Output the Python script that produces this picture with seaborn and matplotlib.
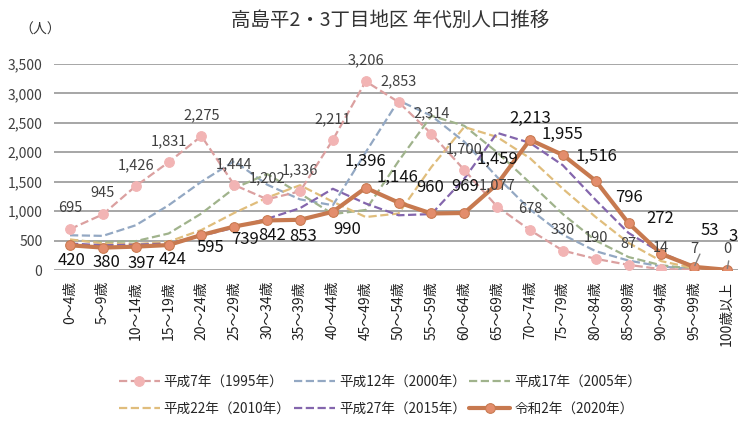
import pandas as pd
import seaborn as sns
import matplotlib.pyplot as plt

# 年代区分
age_groups = ["0～4歳", "5～9歳", "10～14歳", "15～19歳", "20～24歳", "25～29歳",
              "30～34歳", "35～39歳", "40～44歳", "45～49歳", "50～54歳", "55～59歳",
              "60～64歳", "65～69歳", "70～74歳", "75～79歳", "80～84歳", "85～89歳",
              "90～94歳", "95～99歳", "100歳以上"]

# 各年の人口（1995・2020はラベル値、それ以外は図から読み取り）
pop_1995 = [695, 945, 1426, 1831, 2275, 1444, 1202, 1336, 2211, 3206, 2853,
            2314, 1700, 1077, 678, 330, 190, 87, 14, 7, 0]
pop_2000 = [590, 580, 760, 1100, 1500, 1850, 1450, 1200, 1100, 2000, 2880,
            2620, 2180, 1580, 1030, 600, 320, 160, 60, 15, 2]
pop_2005 = [510, 470, 490, 620, 960, 1390, 1630, 1300, 950, 1020, 1850,
            2620, 2450, 2000, 1480, 950, 500, 220, 80, 20, 2]
pop_2010 = [520, 450, 440, 480, 680, 970, 1230, 1440, 1160, 900, 960,
            1750, 2430, 2260, 1900, 1380, 900, 460, 150, 30, 3]
pop_2015 = [450, 420, 430, 450, 580, 720, 870, 1050, 1380, 1130, 930,
            950, 1550, 2330, 2160, 1780, 1190, 630, 290, 60, 4]
pop_2020 = [420, 380, 397, 424, 595, 739, 842, 853, 990, 1396, 1146,
            960, 969, 1459, 2213, 1955, 1516, 796, 272, 53, 3]

series_names = ["平成7年（1995年）", "平成12年（2000年）", "平成17年（2005年）",
                "平成22年（2010年）", "平成27年（2015年）", "令和2年（2020年）"]

rows = []
for name, vals in zip(series_names, [pop_1995, pop_2000, pop_2005, pop_2010, pop_2015, pop_2020]):
    for i, v in enumerate(vals):
        rows.append({"series": name, "age": age_groups[i], "pos": i, "pop": v})
df = pd.DataFrame(rows)

sns.set_style("white")
plt.rcParams['font.family'] = ['Noto Sans CJK JP', 'DejaVu Sans']

fig = plt.figure(figsize=(7.38, 4.22), dpi=100)
ax = fig.add_axes([53.6 / 738, 1 - 270 / 422, (743.5 - 53.6) / 738, (270 - 64) / 422])

styles = {
    "平成7年（1995年）": dict(color="#dba0a0", ls="--", lw=1.6, marker="o", ms=7, mfc="#f2b4b4", mec="#f2b4b4"),
    "平成12年（2000年）": dict(color="#93a8c3", ls="--", lw=1.6),
    "平成17年（2005年）": dict(color="#a0b38c", ls="--", lw=1.6),
    "平成22年（2010年）": dict(color="#e0bd7c", ls="--", lw=1.6),
    "平成27年（2015年）": dict(color="#8466ad", ls="--", lw=1.6),
    "令和2年（2020年）": dict(color="#c7794f", ls="-", lw=3, marker="o", ms=7, mfc="#e38d6c", mec="#c7794f"),
}
draw_order = series_names[1:5] + [series_names[0], series_names[5]]
for name in draw_order:
    st = styles[name]
    sub = df[df["series"] == name]
    sns.lineplot(data=sub, x="pos", y="pop", ax=ax, label=name, color=st["color"],
                 linestyle=st["ls"], linewidth=st["lw"], marker=st.get("marker"),
                 markersize=st.get("ms", 0), markerfacecolor=st.get("mfc"),
                 markeredgecolor=st.get("mec"), dashes=False if st["ls"] == "-" else (3, 2))

# 1995年のラベル
for i, v in enumerate(pop_1995):
    ax.annotate(f"{v:,}", (i, v), xytext=(0, 21), textcoords="offset pixels",
                ha="center", va="center", fontsize=10.5, color="#404040", annotation_clip=False)

# 2020年のラベル
off_2020 = [(2, -15), (4, -15), (6, -17), (4, -14), (9, -13), (11, -13), (5, -15), (3, -17),
            (14, -18), (0, 26), (-1, 25), (-1, 26), (1, 26), (0, 25), (0, 21), (0, 20),
            (1, 24), (0, 26), (-1, 35), (16, 36), (6, 33)]
for i, v in enumerate(pop_2020):
    dx, dy = off_2020[i]
    if i >= 19:
        ax.annotate(f"{v:,}", (i, v), xytext=(dx, dy), textcoords="offset pixels",
                    ha="center", va="center", fontsize=12, color="#111111",
                    annotation_clip=False,
                    arrowprops=dict(arrowstyle="-", color="#7f7f7f", lw=1, shrinkA=9, shrinkB=1))
    else:
        ax.annotate(f"{v:,}", (i, v), xytext=(dx, dy), textcoords="offset pixels",
                    ha="center", va="center", fontsize=12, color="#111111", annotation_clip=False)

ax.set_xlim(-0.5, 20.5)
ax.set_ylim(0, 3500)
ax.set_yticks(range(0, 3501, 500))
ax.set_yticklabels([f"{t:,}" for t in range(0, 3501, 500)], fontsize=10, color="#404040")
ax.set_xticks(range(len(age_groups)))
ax.set_xticklabels(age_groups, rotation=90, fontsize=10, color="#202020")
ax.tick_params(axis="x", pad=8, length=0)
ax.tick_params(axis="y", pad=8, length=0)
ax.set_xlabel("")
ax.set_ylabel("")
ax.grid(axis="y", color="#a6a6a6", lw=1.4)
ax.set_axisbelow(True)
for s in ax.spines.values():
    s.set_visible(False)
ax.get_legend().remove()

# 凡例は行方向に並べる
handles, labels = ax.get_legend_handles_labels()
by_name = dict(zip(labels, handles))
leg_order = [series_names[k] for k in [0, 3, 1, 4, 2, 5]]
fig.legend([by_name[n] for n in leg_order], leg_order, ncol=3,
           loc="center", bbox_to_anchor=(380 / 738, 1 - 395 / 422), frameon=False,
           fontsize=9.8, handlelength=3.0, columnspacing=0.25, handletextpad=0.3,
           labelspacing=0.95)

fig.text(390 / 738, 1 - 20 / 422, "高島平2・3丁目地区 年代別人口推移", ha="center", va="center",
         fontsize=14, color="#333333")
fig.text(40 / 738, 1 - 30 / 422, "（人）", ha="center", va="center", fontsize=10, color="#333333")

fig.savefig("out.png", dpi=100)
